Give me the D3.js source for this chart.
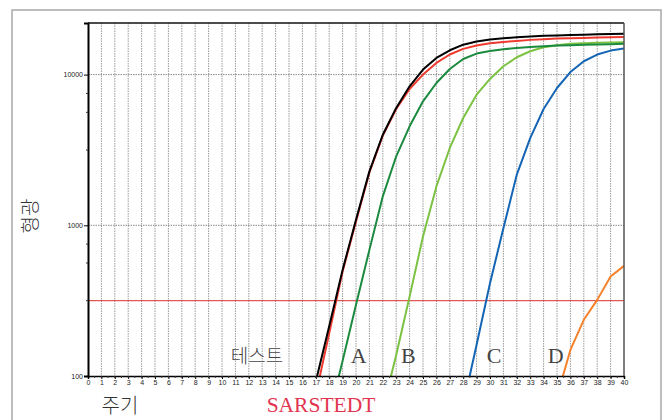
<!DOCTYPE html>
<html>
<head>
	<title>qPCR curves</title>
	<script src="https://d3js.org/d3.v7.min.js"></script>
	<style>
	body { margin: 0; background: #fff; }
	</style>
</head>
<body>
</body>

<script type="text/javascript">

// data: fluorescence per cycle, each series starts at its own cycle
const blackStart = 17
const blackVals = [92, 214, 506, 1087, 2280, 3990, 6010, 8360, 10800, 12900, 14500, 15800, 16600, 17100, 17400, 17700, 17900, 18100, 18200, 18300, 18400, 18500, 18600, 18700]
const redStart = 17
const redVals = [75, 192, 493, 1060, 2240, 3940, 5910, 8030, 10000, 11950, 13590, 14820, 15590, 16150, 16480, 16740, 17000, 17170, 17350, 17430, 17510, 17600, 17690, 17780]
const aStart = 18
const aVals = [55, 126, 297, 687, 1556, 2870, 4540, 6650, 8800, 10900, 12700, 13790, 14360, 14730, 15020, 15270, 15420, 15590, 15670, 15750, 15830, 15910, 16000]
const bStart = 22
const bVals = [60, 138, 337, 843, 1811, 3260, 5150, 7360, 9360, 11360, 13030, 14290, 15200, 15670, 16000, 16150, 16240, 16320, 16400]
const cStart = 28
const cVals = [64, 161, 413, 957, 2170, 3790, 5910, 8150, 10400, 12260, 13590, 14430, 14890]
const dStart = 35
const dVals = [73, 149, 236, 320, 457, 538]

const threshold = 316
const yMajor = [100, 1000, 10000]
const yMinor = [316, 562, 750, 3160, 5620, 7500]
const xTicks = d3.range(0, 41)

const letters = [
	{text: "A", cycle: 20.2},
	{text: "B", cycle: 23.9},
	{text: "C", cycle: 30.3},
	{text: "D", cycle: 34.9}
]

const width = 668
const height = 420

const svg = d3.select("body").append("svg")
		.attr("width", width)
		.attr("height", height)

// outer frame
svg.append("rect")
	.attr("x", 12).attr("y", 10)
	.attr("width", 649).attr("height", 420)
	.attr("fill", "none")
	.attr("stroke", "#a8a8a8")
	.attr("stroke-width", 1.5)

const x = d3.scaleLinear().domain([0, 40]).range([88, 624])
const y = d3.scaleLog().domain([100, 22000]).range([376, 23])

// vertical grid
svg.append("g").selectAll("line")
	.data(d3.range(1, 40))
	.enter().append("line")
	.attr("x1", d => x(d)).attr("x2", d => x(d))
	.attr("y1", y.range()[1]).attr("y2", y.range()[0])
	.attr("stroke", "#9a9a9a")
	.attr("stroke-width", 1)
	.attr("stroke-dasharray", "1.5,1")

// horizontal grid at 1000 and 10000
svg.append("g").selectAll("line")
	.data([1000, 10000])
	.enter().append("line")
	.attr("x1", x(0)).attr("x2", x(40))
	.attr("y1", d => y(d)).attr("y2", d => y(d))
	.attr("stroke", "#8a8a8a")
	.attr("stroke-width", 1)
	.attr("stroke-dasharray", "1.5,1")

// threshold
svg.append("line")
	.attr("x1", x(0)).attr("x2", x(40))
	.attr("y1", y(threshold)).attr("y2", y(threshold))
	.attr("stroke", "#d8322c")
	.attr("stroke-width", 1)

// curves
svg.append("clipPath").attr("id", "plot")
	.append("rect")
	.attr("x", x(0)).attr("y", y.range()[1])
	.attr("width", x(40) - x(0)).attr("height", y.range()[0] - y.range()[1])

const series = [
	{start: blackStart, vals: blackVals, color: "#000000"},
	{start: redStart, vals: redVals, color: "#ee3a2f"},
	{start: aStart, vals: aVals, color: "#1b8a3e"},
	{start: bStart, vals: bVals, color: "#7cc242"},
	{start: cStart, vals: cVals, color: "#1565b5"},
	{start: dStart, vals: dVals, color: "#f5822a"}
]

const line = d3.line()
	.x(d => x(d[0]))
	.y(d => y(d[1]))

const curves = svg.append("g").attr("clip-path", "url(#plot)")

// draw back to front so black sits on top
series.slice().reverse().forEach(function(s){
	const pts = s.vals.map((v, i) => [s.start + i, v])
	curves.append("path")
		.attr("d", line(pts))
		.attr("fill", "none")
		.attr("stroke", s.color)
		.attr("stroke-width", 2)
		.attr("stroke-linejoin", "round")
})

// axes
const xAxis = svg.append("g")
	.attr("transform", "translate(0," + y.range()[0] + ")")
	.call(d3.axisBottom(x).tickValues(xTicks).tickSize(3).tickPadding(1).tickFormat(d3.format("d")))
xAxis.select(".domain").attr("stroke", "#000").attr("stroke-width", 1.5)
xAxis.selectAll("text").attr("font-family", "Liberation Sans, Arial, sans-serif").attr("font-size", 7).attr("fill", "#222")

// half cycle minor ticks
xAxis.selectAll(".minor")
	.data(d3.range(0.5, 40, 0.5))
	.enter().append("line")
	.attr("x1", d => x(d)).attr("x2", d => x(d))
	.attr("y1", 0).attr("y2", 2)
	.attr("stroke", "#333")

const yAxis = svg.append("g")
	.attr("transform", "translate(" + x(0) + ",0)")
	.call(d3.axisLeft(y).tickValues(yMajor).tickSize(4).tickPadding(1).tickFormat(d3.format("d")))
yAxis.select(".domain").attr("stroke", "#000").attr("stroke-width", 2)
yAxis.selectAll("text").attr("font-family", "Liberation Sans, Arial, sans-serif").attr("font-size", 7).attr("fill", "#222")

yAxis.selectAll(".minor")
	.data(yMinor)
	.enter().append("line")
	.attr("x1", -2).attr("x2", 0)
	.attr("y1", d => y(d)).attr("y2", d => y(d))
	.attr("stroke", "#333")

// top and right border
svg.append("line")
	.attr("x1", x(0)).attr("x2", x(40))
	.attr("y1", y.range()[1]).attr("y2", y.range()[1])
	.attr("stroke", "#111").attr("stroke-width", 1.5)
svg.append("line")
	.attr("x1", x(40)).attr("x2", x(40))
	.attr("y1", y.range()[1]).attr("y2", y.range()[0])
	.attr("stroke", "#555").attr("stroke-width", 1.5)

// labels inside the plot
svg.append("text")
	.attr("x", 257).attr("y", 363)
	.attr("text-anchor", "middle")
	.attr("font-family", "Noto Sans CJK KR")
	.attr("font-weight", 300)
	.attr("font-size", 19)
	.attr("fill", "#444")
	.text("테스트")

svg.append("g").selectAll("text")
	.data(letters)
	.enter().append("text")
	.attr("x", d => x(d.cycle)).attr("y", 363)
	.attr("text-anchor", "middle")
	.attr("font-family", "Liberation Serif, serif")
	.attr("font-size", 22)
	.attr("fill", "#444")
	.text(d => d.text)

// axis titles
svg.append("text")
	.attr("x", 120).attr("y", 413)
	.attr("text-anchor", "middle")
	.attr("font-family", "Noto Sans CJK KR")
	.attr("font-weight", 300)
	.attr("font-size", 20)
	.attr("fill", "#333")
	.text("주기")

svg.append("text")
	.attr("transform", "translate(37,216) rotate(-90)")
	.attr("text-anchor", "middle")
	.attr("font-family", "Noto Sans CJK KR")
	.attr("font-weight", 300)
	.attr("font-size", 19)
	.attr("fill", "#333")
	.text("형광")

svg.append("text")
	.attr("x", 321).attr("y", 412)
	.attr("text-anchor", "middle")
	.attr("font-family", "Liberation Serif, serif")
	.attr("font-size", 21.5)
	.attr("fill", "#e2344f")
	.text("SARSTEDT")

</script>
</html>
